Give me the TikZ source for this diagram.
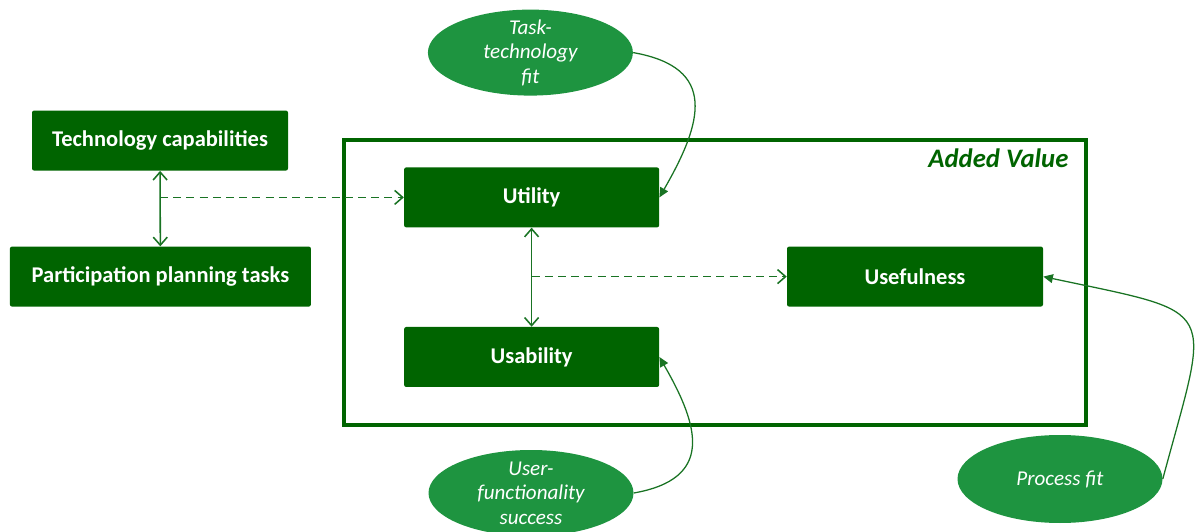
\documentclass[tikz,border=0pt]{standalone}
\usepackage{fontspec}
\setmainfont{Carlito}
\usepackage{tikz}
\usetikzlibrary{shapes,arrows,arrows.meta,positioning,fit,backgrounds}

\definecolor{boxgreen}{RGB}{0,100,0}
\definecolor{fitgreen}{RGB}{30,148,64}
\definecolor{linegreen}{RGB}{25,115,35}

\begin{document}
\begin{tikzpicture}[
    blok/.style={fill=boxgreen, rounded corners=1.5pt, text=white, inner sep=0pt,
        minimum height=1.5cm, font=\fontsize{16}{19}\selectfont\bfseries},
    fitbol/.style={ellipse, fill=fitgreen, text=white, align=center, inner xsep=0pt, inner ysep=-8pt,
        minimum width=5.125cm, minimum height=2.15cm, font=\fontsize{15}{17.5}\selectfont\itshape},
    valuebox/.style={draw=boxgreen, line width=2.6pt, inner sep=0pt},
    pijl/.style={linegreen, line width=1.1pt, {Straight Barb[length=2mm,width=3.5mm]}-{Straight Barb[length=2mm,width=3.5mm]}},
    stippel/.style={linegreen, line width=1.1pt, dash pattern=on 2mm off 1.3mm, -{Straight Barb[length=2mm,width=3.5mm]}},
    fitpijl/.style={linegreen, line width=0.9pt, -{Triangle[length=2.4mm,width=2.2mm]}}
]
\useasboundingbox (0,0) rectangle (29.875,13.275);

% Added Value frame
\node[valuebox, minimum width=18.55cm, minimum height=7.125cm] (addedvalue) at (17.875,6.2125) {};
\node[anchor=north east, inner sep=0pt, text=boxgreen, font=\fontsize{19}{22}\selectfont\bfseries\itshape]
    (avlabel) at ([xshift=-0.48cm, yshift=-0.25cm]addedvalue.north east) {Added Value};

% boxes
\node[blok, minimum width=6.4cm] (techcap) at (4.0,9.76) {Technology capabilities};
\node[blok, minimum width=7.525cm] (plantasks) at (4.01,6.36) {Participation planning tasks};
\node[blok, minimum width=6.375cm] (utility) at (13.29,8.34) {Utility};
\node[blok, minimum width=6.375cm] (usability) at (13.29,4.35) {Usability};
\node[blok, minimum width=6.4cm] (usefulness) at (22.875,6.36) {Usefulness};

% fit ellipses
\node[fitbol] (ttfit) at (13.26,11.96) {Task-\\technology\\fit};
\node[fitbol] (ufsuccess) at (13.275,0.95) {User-\\functionality\\success};
\node[fitbol, minimum height=2.2cm] (procfit) at (26.5,1.3) {Process fit};

% relations
\draw[pijl] (techcap) -- (plantasks);
\draw[stippel] (techcap.south |- utility.west) -- (utility.west);
\draw[pijl] (utility) -- (usability);
\draw[stippel] (utility.south |- usefulness.west) -- (usefulness.west);

\draw[fitpijl] (ttfit.east) to[out=-10, in=60, looseness=1.5] (utility.east);
\draw[fitpijl] (ufsuccess.east) to[out=10, in=-60, looseness=1.5] (usability.east);
\draw[fitpijl] (procfit.east) to[out=75, in=-12, looseness=2] (usefulness.east);
\end{tikzpicture}
\end{document}
